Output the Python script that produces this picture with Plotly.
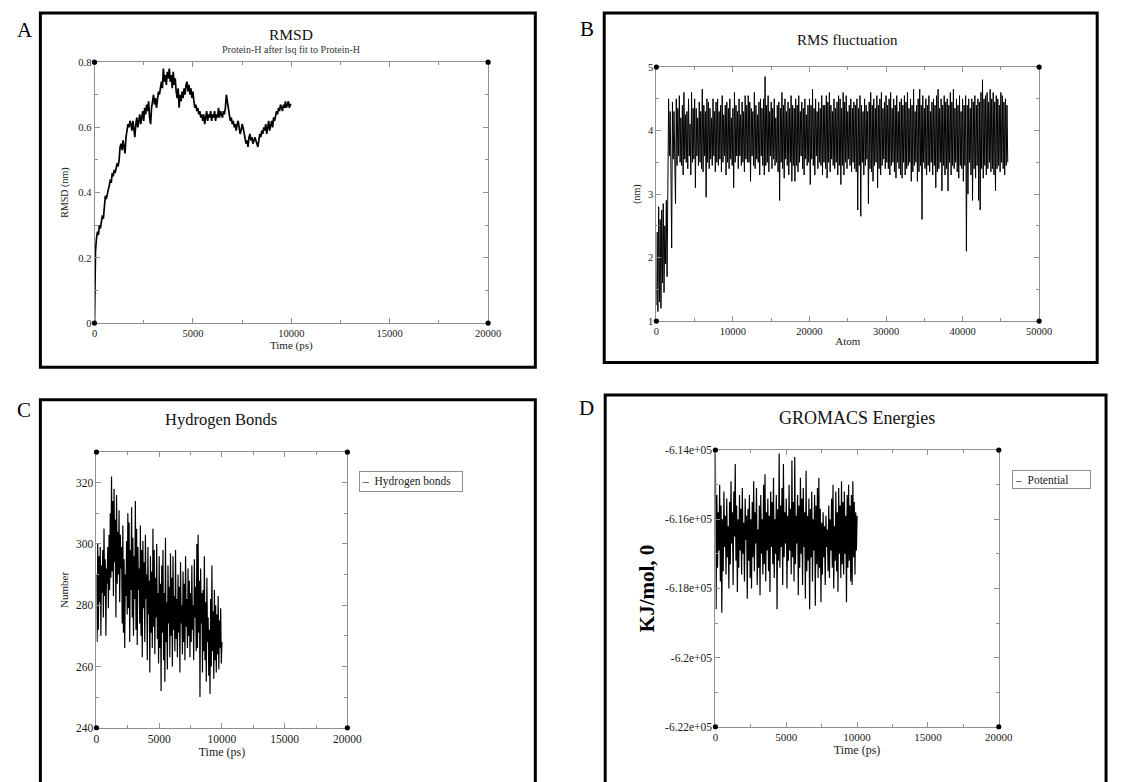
import plotly.graph_objects as go

W, H = 1124, 782

# ---------------- data ----------------
rmsd_time_ps = list(range(0, 10001, 50))
rmsd_nm = [
    0.00, 0.22, 0.26, 0.28, 0.27, 0.30, 0.29, 0.31, 0.33, 0.32,
    0.36, 0.39, 0.38, 0.40, 0.41, 0.42, 0.44, 0.43, 0.46, 0.45,
    0.47, 0.46, 0.48, 0.49, 0.48, 0.50, 0.54, 0.55, 0.53, 0.56,
    0.54, 0.52, 0.57, 0.59, 0.61, 0.60, 0.62, 0.61, 0.59, 0.62,
    0.60, 0.57, 0.61, 0.63, 0.60, 0.62, 0.64, 0.61, 0.63, 0.65,
    0.62, 0.66, 0.64, 0.67, 0.65, 0.68, 0.63, 0.61, 0.66, 0.68,
    0.70, 0.67, 0.69, 0.66, 0.68, 0.71, 0.70, 0.72, 0.74, 0.72,
    0.78, 0.74, 0.76, 0.73, 0.77, 0.75, 0.78, 0.74, 0.76, 0.72,
    0.77, 0.73, 0.75, 0.71, 0.69, 0.72, 0.66, 0.70, 0.68, 0.71,
    0.69, 0.72, 0.70, 0.73, 0.74, 0.71, 0.73, 0.70, 0.72, 0.69,
    0.71, 0.68, 0.66, 0.67, 0.65, 0.66, 0.64, 0.65, 0.63, 0.64,
    0.62, 0.64, 0.61, 0.63, 0.65, 0.62, 0.64, 0.63, 0.65, 0.62,
    0.64, 0.63, 0.65, 0.62, 0.64, 0.63, 0.66, 0.63, 0.65, 0.64,
    0.63, 0.65, 0.64, 0.66, 0.70, 0.68, 0.66, 0.64, 0.62, 0.63,
    0.61, 0.62, 0.60, 0.61, 0.59, 0.61, 0.62, 0.60, 0.58, 0.59,
    0.61, 0.60, 0.58, 0.57, 0.55, 0.56, 0.54, 0.57, 0.58, 0.56,
    0.57, 0.55, 0.56, 0.57, 0.56, 0.55, 0.54, 0.56, 0.58, 0.57,
    0.59, 0.58, 0.60, 0.59, 0.61, 0.58, 0.60, 0.62, 0.59, 0.61,
    0.62, 0.60, 0.63, 0.62, 0.64, 0.65, 0.64, 0.66, 0.65, 0.67,
    0.66, 0.65, 0.67, 0.66, 0.68, 0.66, 0.67, 0.68, 0.66, 0.67,
    0.67,
]

rmsf_atom = list(range(0, 46000, 100))
rmsf_nm = [
    1.25, 2.4, 1.15, 2.8, 1.3, 2.6, 1.2, 2.75, 1.6, 2.85, 1.45, 2.5, 1.9, 2.9, 1.7, 2.95, 4.5, 3.6, 4.3, 3.4,
    2.15, 4.45, 3.55, 4.3, 3.7, 2.85, 4.5, 3.45, 4.35, 3.6, 4.55, 3.5, 4.2, 3.45, 4.4, 3.3, 4.6, 3.55, 4.25, 3.5,
    4.3, 3.4, 4.5, 3.6, 4.1, 3.3, 4.6, 3.5, 4.35, 3.55, 4.5, 3.1, 4.35, 3.6, 4.2, 3.45, 4.45, 3.5, 4.3, 3.4,
    4.65, 3.35, 4.4, 3.6, 4.3, 2.95, 4.5, 3.5, 4.45, 3.4, 4.35, 3.55, 4.2, 3.45, 4.5, 3.6, 4.3, 3.35, 4.45, 3.5,
    4.5, 3.45, 4.3, 3.55, 4.4, 3.35, 4.55, 3.5, 4.25, 3.6, 4.4, 3.3, 4.45, 3.5, 4.35, 3.4, 4.5, 3.55, 4.2, 3.45,
    4.35, 3.1, 4.6, 3.5, 4.4, 3.6, 4.3, 3.4, 4.5, 3.6, 4.25, 3.45, 4.45, 3.5, 4.3, 3.35, 4.55, 3.55, 4.4, 3.5,
    4.55, 3.5, 4.45, 3.2, 4.35, 3.6, 4.3, 3.45, 4.6, 3.4, 4.4, 3.55, 4.25, 3.5, 4.45, 3.3, 4.5, 3.6, 4.35, 3.45,
    4.5, 3.3, 4.85, 3.45, 4.4, 3.5, 4.55, 3.35, 4.3, 3.6, 4.45, 3.4, 4.35, 3.55, 4.5, 3.45, 4.2, 3.5, 4.4, 3.35,
    4.45, 2.9, 4.35, 3.5, 4.6, 3.4, 4.4, 3.25, 4.5, 3.55, 4.3, 3.45, 4.45, 3.3, 4.35, 3.5, 4.55, 3.2, 4.4, 3.45,
    4.35, 3.2, 4.5, 3.45, 4.4, 3.35, 4.55, 3.5, 4.3, 3.6, 4.45, 3.4, 4.35, 3.3, 4.5, 3.55, 4.25, 3.45, 4.4, 3.5,
    4.5, 3.15, 4.4, 3.55, 4.65, 3.45, 4.35, 3.3, 4.5, 3.6, 4.3, 3.4, 4.45, 3.5, 4.35, 3.45, 4.55, 3.3, 4.4, 3.5,
    4.4, 3.4, 4.55, 3.25, 4.45, 3.5, 4.6, 3.35, 4.4, 3.55, 4.3, 3.45, 4.5, 3.4, 4.35, 3.5, 4.45, 3.3, 4.55, 3.45,
    4.5, 3.15, 4.35, 3.45, 4.6, 3.3, 4.45, 3.5, 4.55, 3.4, 4.3, 3.55, 4.4, 3.45, 4.5, 3.35, 4.35, 3.5, 4.45, 3.4,
    4.4, 3.35, 4.5, 2.75, 4.35, 3.45, 4.55, 2.65, 4.4, 3.5, 4.3, 3.3, 4.5, 3.45, 4.4, 3.55, 4.3, 2.85, 4.45, 3.4,
    4.6, 3.35, 4.4, 3.2, 4.5, 3.45, 4.35, 3.5, 4.55, 3.1, 4.4, 3.4, 4.5, 3.3, 4.6, 3.45, 4.35, 3.55, 4.45, 3.4,
    4.55, 3.5, 4.4, 3.4, 4.5, 3.3, 4.6, 3.45, 4.35, 3.5, 4.5, 3.35, 4.4, 3.25, 4.55, 3.5, 4.3, 3.4, 4.45, 3.3,
    4.5, 3.25, 4.4, 3.5, 4.55, 3.3, 4.45, 3.4, 4.6, 3.45, 4.35, 3.5, 4.5, 3.2, 4.4, 3.35, 4.65, 3.45, 4.3, 3.5,
    4.4, 3.2, 4.5, 3.35, 4.65, 3.45, 4.4, 2.6, 4.55, 3.5, 4.35, 3.4, 4.5, 3.3, 4.4, 3.45, 4.55, 3.35, 4.3, 3.5,
    4.45, 3.3, 4.5, 3.45, 4.4, 3.1, 4.55, 3.35, 4.65, 3.4, 4.35, 3.5, 4.5, 3.05, 4.4, 3.45, 4.55, 3.3, 4.45, 3.4,
    4.5, 3.05, 4.4, 3.5, 4.6, 3.3, 4.45, 3.45, 4.65, 3.4, 4.35, 3.5, 4.5, 3.35, 4.4, 3.25, 4.55, 3.45, 4.3, 3.4,
    4.5, 3.2, 4.4, 3.45, 4.55, 2.1, 4.4, 3.0, 4.5, 3.5, 4.35, 3.3, 4.5, 2.9, 4.45, 3.4, 4.55, 3.25, 4.4, 3.45,
    4.5, 2.9, 4.45, 2.75, 4.6, 3.4, 4.8, 3.25, 4.5, 3.45, 4.55, 3.3, 4.6, 3.4, 4.45, 3.5, 4.65, 3.35, 4.5, 3.4,
    4.6, 3.3, 4.45, 3.05, 4.55, 3.4, 4.5, 3.45, 4.4, 3.35, 4.6, 3.5, 4.55, 3.4, 4.45, 3.3, 4.5, 3.45, 4.4, 3.5,
]

hbond_time_ps = list(range(0, 10001, 50))
hbond_count = [
    290, 268, 300, 272, 296, 281, 299, 270, 293, 284,
    298, 276, 305, 283, 295, 270, 292, 287, 299, 279,
    303, 285, 310, 289, 322, 291, 314, 283, 318, 294,
    308, 276, 316, 287, 304, 290, 311, 281, 303, 292,
    299, 274, 306, 271, 295, 266, 290, 283, 301, 277,
    310, 279, 307, 268, 298, 285, 312, 276, 302, 270,
    296, 282, 314, 272, 305, 267, 299, 285, 292, 274,
    306, 270, 298, 263, 301, 279, 294, 268, 303, 282,
    290, 262, 299, 277, 288, 258, 296, 271, 291, 266,
    305, 273, 298, 264, 289, 276, 300, 269, 284, 261,
    296, 266, 287, 252, 293, 271, 298, 262, 284, 255,
    302, 268, 281, 259, 293, 274, 286, 263, 297, 270,
    289, 260, 296, 272, 283, 265, 298, 269, 282, 263,
    290, 271, 286, 258, 294, 274, 280, 264, 291, 268,
    287, 262, 296, 273, 282, 266, 292, 270, 288, 263,
    284, 268, 293, 272, 280, 262, 295, 276, 286, 265,
    300, 266, 303, 271, 288, 250, 292, 274, 284, 258,
    285, 265, 296, 262, 281, 255, 289, 268, 276, 257,
    272, 251, 282, 260, 293, 265, 278, 256, 285, 262,
    280, 258, 277, 264, 283, 259, 275, 266, 279, 261,
    268,
]

energy_time_ps = list(range(0, 10001, 50))
potential_kj_mol = [
    -614100, -618600, -615300, -617400, -615800, -616900, -615000, -617800, -615600, -618700,
    -616000, -617500, -615200, -616800, -615900, -617600, -615400, -617100, -616200, -618000,
    -615500, -617300, -614900, -616700, -615800, -617900, -615200, -616500, -614400, -617200,
    -615600, -618100, -616000, -617400, -615300, -616900, -615700, -617600, -615100, -617000,
    -616100, -617800, -615400, -616600, -615900, -618300, -615700, -617200, -615300, -617700,
    -616000, -618000, -615500, -617100, -614900, -617500, -615800, -616700, -615100, -617900,
    -616300, -617400, -615600, -618200, -615300, -617000, -616000, -617600, -615000, -617300,
    -614700, -617800, -615800, -616900, -615400, -617500, -615900, -618100, -615200, -616800,
    -615500, -617300, -614800, -617700, -616000, -617000, -615300, -618600, -615700, -617200,
    -614100, -617400, -615600, -616800, -615100, -617900, -614400, -617100, -615800, -616700,
    -615400, -618000, -615900, -617200, -615000, -616900, -615700, -617600, -614300, -617100,
    -615500, -617800, -614200, -617300, -615900, -616700, -615300, -618200, -615600, -617400,
    -614800, -617000, -615400, -617900, -615100, -616800, -615800, -618300, -614600, -617500,
    -615900, -617200, -615400, -618600, -615700, -617100, -615200, -617800, -616000, -616900,
    -615300, -618500, -615600, -617300, -615100, -617700, -614800, -617400, -615700, -618400,
    -616100, -617600, -615800, -617100, -616200, -617900, -615900, -616800, -616300, -617500,
    -615600, -617700, -616000, -616900, -615400, -617400, -615000, -618000, -616200, -617200,
    -615200, -617500, -615800, -618100, -615100, -617000, -615600, -617700, -614900, -617300,
    -615500, -617600, -615200, -617000, -615900, -618400, -615300, -617400, -615000, -617200,
    -615600, -617800, -615300, -617900, -614900, -617100, -615500, -617600, -615800, -616900,
    -615900,
]

energy_tick_vals = [-622000, -620000, -618000, -616000, -614000]
energy_tick_text = ["-6.22e+05", "-6.2e+05", "-6.18e+05", "-6.16e+05", "-6.14e+05"]

# ---------------- helpers (layout only) ----------------
SERIF = "Liberation Serif"
AXC = "#8f8f8f"
TXT = "#1a1a1a"


def px(x):
    return x / W


def py(y):
    return 1 - y / H


def xdom(a, b):
    return [px(a), px(b)]


def ydom(top, bot):
    return [py(bot), py(top)]


def axis(fs=10.5, tfs=11, **kw):
    base = dict(
        showline=True, linecolor=AXC, linewidth=1, mirror="ticks",
        ticks="inside", ticklen=5, tickwidth=1, tickcolor=AXC,
        showgrid=False, zeroline=False,
        tickfont=dict(family=SERIF, size=fs, color=TXT),
        title_font=dict(family=SERIF, size=tfs, color=TXT),
    )
    base.update(kw)
    return base


def minor(d, t0=0):
    return dict(ticks="inside", ticklen=3, tickcolor=AXC, dtick=d, tick0=t0, showgrid=False)


fig = go.Figure()

fig.add_trace(go.Scatter(x=rmsd_time_ps, y=rmsd_nm, mode="lines",
                         line=dict(color="black", width=1.7),
                         xaxis="x", yaxis="y", showlegend=False, name="RMSD"))
fig.add_trace(go.Scatter(x=rmsf_atom, y=rmsf_nm, mode="lines",
                         line=dict(color="black", width=1),
                         xaxis="x2", yaxis="y2", showlegend=False, name="RMSF"))
fig.add_trace(go.Scatter(x=hbond_time_ps, y=hbond_count, mode="lines",
                         line=dict(color="black", width=1.2),
                         xaxis="x3", yaxis="y3", showlegend=False, name="Hydrogen bonds"))
fig.add_trace(go.Scatter(x=energy_time_ps, y=potential_kj_mol, mode="lines",
                         line=dict(color="black", width=1.2),
                         xaxis="x4", yaxis="y4", showlegend=False, name="Potential"))

fig.update_layout(
    width=W, height=H, margin=dict(l=0, r=0, t=0, b=0),
    paper_bgcolor="white", plot_bgcolor="white",
    font=dict(family=SERIF, color=TXT),
    # A
    xaxis=axis(domain=xdom(93, 493), range=[0, 20000], dtick=5000, tickformat="d",
               minor=minor(2500), anchor="y",
               title=dict(text="Time (ps)", standoff=1)),
    yaxis=axis(domain=ydom(57, 322), range=[0, 0.8], dtick=0.2, minor=minor(0.1),
               anchor="x", tfs=10, title=dict(text="RMSD (nm)", standoff=7)),
    # B
    xaxis2=axis(domain=xdom(664, 1053), range=[0, 50000], dtick=10000, tickformat="d",
                minor=minor(5000), anchor="y2",
                title=dict(text="Atom", standoff=1)),
    yaxis2=axis(domain=ydom(62, 320), range=[1, 5], dtick=1, minor=minor(0.5),
                anchor="x2", tfs=10, title=dict(text="(nm)", standoff=5)),
    # C
    xaxis3=axis(fs=11.5, tfs=12, domain=xdom(95, 350), range=[0, 20000], dtick=5000,
                tickformat="d", minor=minor(2500), anchor="y3",
                title=dict(text="Time (ps)", standoff=1)),
    yaxis3=axis(fs=11.5, tfs=11, domain=ydom(453, 733), range=[240, 330], tick0=240,
                dtick=20, minor=minor(10, 240), anchor="x3",
                title=dict(text="Number", standoff=5)),
    # D
    xaxis4=axis(fs=11, tfs=12, domain=xdom(724, 1012), range=[0, 20000], dtick=5000,
                tickformat="d", minor=minor(2500), anchor="y4",
                title=dict(text="Time (ps)", standoff=1)),
    yaxis4=axis(fs=11.5, domain=ydom(451, 732), range=[-622000, -614000],
                tickmode="array", tickvals=energy_tick_vals, ticktext=energy_tick_text,
                minor=minor(1000, -622000), anchor="x4",
                title=dict(text="<b>KJ/mol, 0</b>", standoff=4,
                           font=dict(family=SERIF, size=21, color="black"))),
)

# outer panel frames
shapes = []
for (x0, y0, x1, y1) in [(38, 7, 541, 367), (611, 7, 1112, 362),
                         (38, 400, 541, 800), (612, 395, 1121, 800)]:
    shapes.append(dict(type="rect", xref="paper", yref="paper",
                       x0=px(x0), x1=px(x1), y0=py(y1), y1=py(y0),
                       line=dict(color="black", width=3), fillcolor="rgba(0,0,0,0)"))

# corner dots of each graph frame (xmgrace style)
for ax in ["", "2", "3", "4"]:
    for cx in (0, 1):
        for cy in (0, 1):
            shapes.append(dict(type="circle", xref=f"x{ax} domain", yref=f"y{ax} domain",
                               xsizemode="pixel", ysizemode="pixel",
                               xanchor=cx, yanchor=cy, x0=-2.6, x1=2.6, y0=-2.6, y1=2.6,
                               fillcolor="black", line=dict(color="black", width=0)))
fig.update_layout(shapes=shapes)

ann = []


def text(x, y, s, size, color="black"):
    ann.append(dict(xref="paper", yref="paper", x=px(x), y=py(y), text=s,
                    showarrow=False, xanchor="center", yanchor="middle",
                    font=dict(family=SERIF, size=size, color=color)))


def legend_box(x, y, w, h, s, size):
    ann.append(dict(xref="paper", yref="paper", x=px(x), y=py(y), text=s,
                    showarrow=False, xanchor="left", yanchor="top", align="left",
                    width=w, height=h, borderpad=2, bordercolor=AXC, borderwidth=1,
                    bgcolor="white", font=dict(family=SERIF, size=size, color=TXT)))


# panel letters
text(22, 24, "A", 21)
text(593, 23, "B", 21)
text(21, 410, "C", 21)
text(593, 408, "D", 21)
# graph titles
text(293, 29, "RMSD", 15.5, color="#111")
text(293, 44, "Protein-H after lsq fit to Protein-H", 10, color="#333")
text(858, 35, "RMS fluctuation", 15, color="#111")
text(222, 420, "Hydrogen Bonds", 16.5, color="#111")
text(868, 418, "GROMACS Energies", 18, color="#111")
# legends (xmgrace-style boxes)
legend_box(362, 472, 98, 15, "–&nbsp;&nbsp;Hydrogen bonds", 11.5)
legend_box(1025, 471, 73, 13, "–&nbsp;&nbsp;Potential", 11.5)
fig.update_layout(annotations=ann)

fig.write_html("out.html", config={"displayModeBar": False},
               post_script="document.body.style.margin='0';")
